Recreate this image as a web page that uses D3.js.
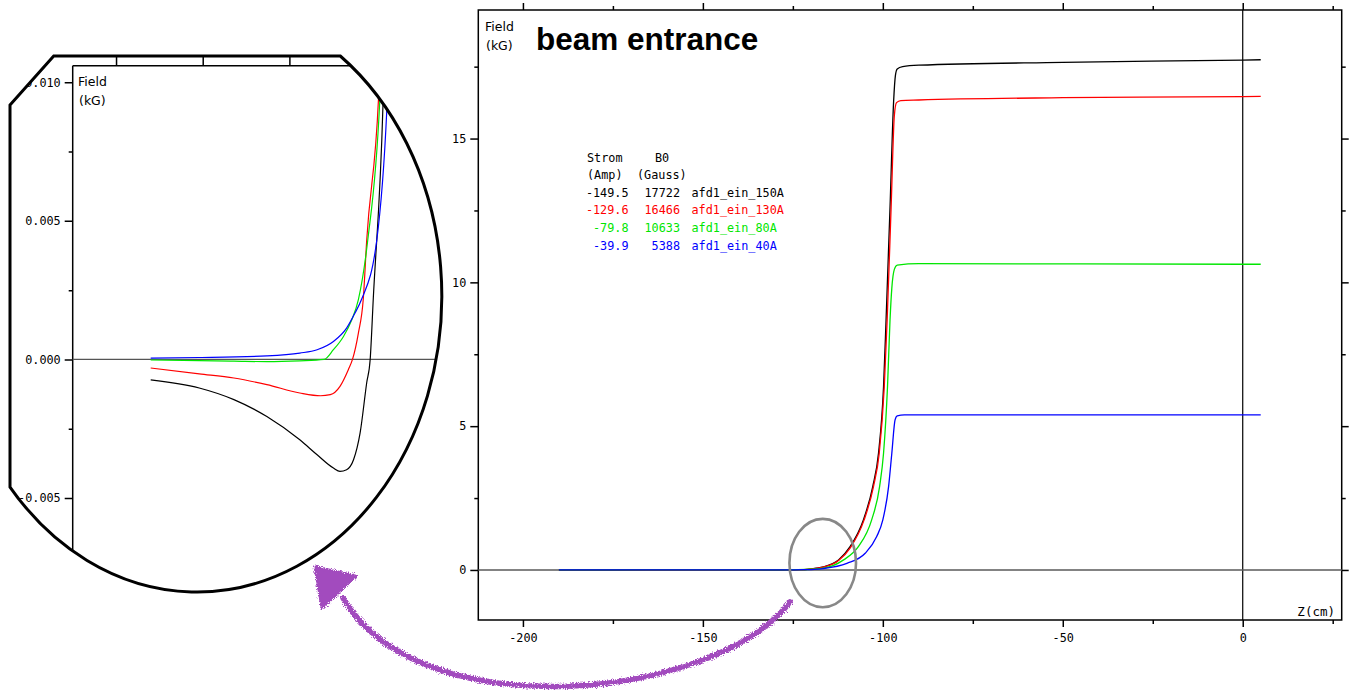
<!DOCTYPE html>
<html>
<head>
<meta charset="utf-8">
<script src="https://cdn.jsdelivr.net/npm/d3@7"></script>
<style>
  html, body { margin: 0; padding: 0; background: #fff; }
  svg { display: block; }
  .mono { font-family: "DejaVu Sans Mono", monospace; }
</style>
</head>
<body>
<svg id="chart" width="1349" height="690"></svg>
<script>
// 图例数据
const names = ["afd1_ein_150A", "afd1_ein_130A", "afd1_ein_80A", "afd1_ein_40A"];
const currents = ["-149.5", "-129.6", "-79.8", "-39.9"];
const fields = [17722, 16466, 10633, 5388];
const colors = ["#000000", "#ff0000", "#00e600", "#0000ff"];

// 每条曲线: Z(cm) 与 Field(kG)
const z150 = [-190, -176, -166, -156.5, -147, -142, -137.3, -135.4, -133.5, -131.5, -129.6, -127.7, -126.7, -125.8, -123, -121, -118.5, -116.5, -112.3, -109.1, -105.4, -102.8, -101.2, -99.8, -99.1, -98, -97, -96.5, -96, -94.5, -90, -50, 0, 5];
const b150 = [-0.00074, -0.00103, -0.00145, -0.00206, -0.0029, -0.00344, -0.00392, -0.00404, -0.00398, -0.00362, -0.00265, -0.00084, 0, 0.0022, 0.0092, 0.02, 0.06, 0.11, 0.35, 0.81, 1.74, 2.9, 4.06, 6.37, 8.69, 12.6, 16.3, 17.2, 17.42, 17.5, 17.55, 17.65, 17.73, 17.74];

const z130 = [-190, -176, -166, -156.5, -147, -141, -138.2, -135.4, -133, -131.8, -130.1, -128.7, -127.7, -124.3, -121, -118.5, -116.5, -112.3, -109, -105.2, -102.6, -101, -99.6, -98.8, -97.7, -96.8, -96.2, -95, -90, -50, 0, 5];
const b130 = [-0.00031, -0.00052, -0.00067, -0.00091, -0.00121, -0.00131, -0.00127, -0.00097, -0.00037, 0, 0.00095, 0.00216, 0.0043, 0.0094, 0.022, 0.055, 0.1, 0.33, 0.78, 1.74, 2.9, 4.06, 6.37, 8.69, 12.6, 15.8, 16.25, 16.32, 16.34, 16.42, 16.46, 16.47];

const z80 = [-190, -176, -166, -156.5, -147, -140, -137.3, -134.4, -132, -130.1, -127.4, -123.9, -120, -116.5, -110.9, -106.8, -103.1, -100.9, -99.8, -98.7, -98, -97.5, -96.8, -96, -90, 0, 5];
const b80 = [-0.00002, -0.00004, -0.00006, -0.00008, -0.00005, 0, 0.00035, 0.00083, 0.00143, 0.00216, 0.0043, 0.0094, 0.025, 0.06, 0.35, 0.81, 1.74, 2.9, 4.06, 6.37, 8.69, 9.8, 10.45, 10.6, 10.65, 10.63, 10.63];

const z40 = [-190, -176, -156.5, -147, -142, -137.3, -133.5, -131.1, -129.2, -124.8, -121.9, -119, -116.5, -110, -104.9, -101.7, -100, -98.4, -97.5, -96.6, -96, -94, 5];
const b40 = [0.00005, 0.00007, 0.00013, 0.00023, 0.00035, 0.00065, 0.00113, 0.00167, 0.00216, 0.0043, 0.009, 0.02, 0.05, 0.23, 0.58, 1.16, 1.74, 2.9, 4.06, 5.22, 5.36, 5.39, 5.39];

// 刻度
const xTicksMajor = [-200, -150, -100, -50, 0];
const xTicksMinor = [-175, -125, -75, -25, 25];
const yTicksMajor = [0, 5, 10, 15];
const yTicksMinor = [2.5, 7.5, 12.5, 17.5];
const insetTicksMajor = [-0.005, 0, 0.005, 0.01];
const insetTicksMinor = [-0.0025, 0.0025, 0.0075];

const series = [[z150, b150], [z130, b130], [z80, b80], [z40, b40]].map(function (s, i) {
  return { name: names[i], color: colors[i], points: s[0].map(function (z, j) { return [z, s[1][j]]; }) };
});

const svg = d3.select("#chart");

// ---------- 主图 ----------
const mLeft = 478.3, mRight = 1341.7, mTop = 10, mBottom = 620;
const x = d3.scaleLinear().domain([-212.4, 27.5]).range([mLeft, mRight]);
const y = d3.scaleLinear().domain([-1.74, 19.47]).range([mBottom, mTop]);

const main = svg.append("g").attr("class", "main");

function styleAxis(g) {
  g.select(".domain").remove();
  g.selectAll("line").style("stroke", "#000").style("stroke-width", "1.5px");
  g.selectAll("text").attr("class", "mono").style("font-size", "11.8px").style("fill", "#000");
}

const fmt = function (d) { return String(d); };

main.append("g").attr("transform", `translate(0,${mBottom})`)
  .call(d3.axisBottom(x).tickValues(xTicksMajor).tickSize(7).tickPadding(7).tickFormat(fmt)).call(styleAxis);
main.append("g").attr("transform", `translate(0,${mBottom})`)
  .call(d3.axisBottom(x).tickValues(xTicksMinor).tickSize(4).tickFormat("")).call(styleAxis);
main.append("g").attr("transform", `translate(0,${mTop})`)
  .call(d3.axisTop(x).tickValues(xTicksMajor).tickSize(7).tickFormat("")).call(styleAxis);
main.append("g").attr("transform", `translate(0,${mTop})`)
  .call(d3.axisTop(x).tickValues(xTicksMinor).tickSize(4).tickFormat("")).call(styleAxis);
main.append("g").attr("transform", `translate(${mLeft},0)`)
  .call(d3.axisLeft(y).tickValues(yTicksMajor).tickSize(8).tickPadding(4).tickFormat(fmt)).call(styleAxis);
main.append("g").attr("transform", `translate(${mLeft},0)`)
  .call(d3.axisLeft(y).tickValues(yTicksMinor).tickSize(4).tickFormat("")).call(styleAxis);
main.append("g").attr("transform", `translate(${mRight},0)`)
  .call(d3.axisRight(y).tickValues(yTicksMajor).tickSize(7).tickFormat("")).call(styleAxis);
main.append("g").attr("transform", `translate(${mRight},0)`)
  .call(d3.axisRight(y).tickValues(yTicksMinor).tickSize(4).tickFormat("")).call(styleAxis);

// 边框
main.append("rect")
  .attr("x", mLeft).attr("y", mTop)
  .attr("width", mRight - mLeft).attr("height", mBottom - mTop)
  .style("fill", "none").style("stroke", "#000").style("stroke-width", "1.5px");

// Z=0 竖线, B=0 横线
main.append("line")
  .attr("x1", x(0)).attr("x2", x(0)).attr("y1", mTop).attr("y2", mBottom)
  .style("stroke", "#000").style("stroke-width", "1.2px");
main.append("line")
  .attr("x1", mLeft).attr("x2", mRight).attr("y1", y(0)).attr("y2", y(0))
  .style("stroke", "#5a5a5a").style("stroke-width", "1.6px");

const lineMain = d3.line()
  .x(function (d) { return x(d[0]); })
  .y(function (d) { return y(d[1]); })
  .curve(d3.curveMonotoneX);

main.selectAll("path.curve").data(series).enter().append("path")
  .attr("class", "curve")
  .attr("d", function (d) { return lineMain(d.points); })
  .style("fill", "none")
  .style("stroke", function (d) { return d.color; })
  .style("stroke-width", "1.3px");

// 轴标题
main.append("text").attr("x", 485).attr("y", 30.5)
  .style("font-family", "DejaVu Sans").style("font-size", "12.5px").text("Field");
main.append("text").attr("x", 486).attr("y", 50)
  .style("font-family", "DejaVu Sans").style("font-size", "12.5px").text("(kG)");
main.append("text").attr("class", "mono").attr("x", 1335).attr("y", 615.5)
  .attr("text-anchor", "end").style("font-size", "12.5px").text("Z(cm)");
main.append("text").attr("x", 536).attr("y", 50)
  .style("font-family", "Liberation Sans, Arial, sans-serif")
  .style("font-weight", "bold").style("font-size", "31.5px").text("beam entrance");

// 图例
const legend = main.append("g").attr("class", "mono").style("font-size", "11.8px");
legend.append("text").attr("x", 587).attr("y", 161.5).text("Strom");
legend.append("text").attr("x", 655).attr("y", 161.5).text("B0");
legend.append("text").attr("x", 587).attr("y", 178.5).text("(Amp)");
legend.append("text").attr("x", 637).attr("y", 178.5).text("(Gauss)");

const rows = legend.selectAll("g.row").data(series).enter().append("g")
  .attr("class", "row")
  .attr("transform", function (d, i) { return `translate(0,${196.5 + i * 17.8})`; })
  .style("fill", function (d) { return d.color; });
rows.append("text").attr("x", 628.5).attr("text-anchor", "end").text(function (d, i) { return currents[i]; });
rows.append("text").attr("x", 680).attr("text-anchor", "end").text(function (d, i) { return fields[i]; });
rows.append("text").attr("x", 691.5).text(function (d) { return d.name; });

// 灰色椭圆标记
main.append("ellipse")
  .attr("cx", x(-116.7)).attr("cy", y(0.24))
  .attr("rx", 33.3).attr("ry", 44.2)
  .style("fill", "none").style("stroke", "#888").style("stroke-width", "2.6px");

// ---------- 放大图 ----------
// 外框: 椭圆被上边、左边和左上斜边截断
const ex = 197, ey = 296, erx = 244.8, ery = 296;
const cutTop = 56, cutLeft = 10;
const dxTop = erx * Math.sqrt(1 - Math.pow((cutTop - ey) / ery, 2));
const dyLeft = ery * Math.sqrt(1 - Math.pow((cutLeft - ex) / erx, 2));
const outline = `M${cutLeft},${ey - dyLeft} L${ex - dxTop},${cutTop} L${ex + dxTop},${cutTop} ` +
  `A${erx},${ery} 0 1 1 ${cutLeft},${ey + dyLeft} Z`;

const defs = svg.append("defs");
defs.append("clipPath").attr("id", "insetClip").append("path").attr("d", outline);

const rough = defs.append("filter").attr("id", "rough")
  .attr("x", "-10%").attr("y", "-10%").attr("width", "120%").attr("height", "120%");
rough.append("feTurbulence").attr("type", "fractalNoise").attr("baseFrequency", 0.9)
  .attr("numOctaves", 2).attr("result", "noise");
rough.append("feDisplacementMap").attr("in", "SourceGraphic").attr("in2", "noise")
  .attr("scale", 6).attr("xChannelSelector", "R").attr("yChannelSelector", "G");

const iLeft = 72.7, iTop = 65.7;
const xi = d3.scaleLinear().domain([-212.5, 27.5]).range([iLeft, iLeft + 240 * 3.467]);
const yi = d3.scaleLinear().domain([-0.005, 0.01]).range([498, 82.3]);

svg.append("path").attr("d", outline).style("fill", "#fff");
const inset = svg.append("g").attr("clip-path", "url(#insetClip)");

inset.append("g").attr("transform", `translate(0,${iTop})`)
  .call(d3.axisTop(xi).tickValues(xTicksMajor.concat(xTicksMinor)).tickSize(10).tickFormat("")).call(styleAxis);
inset.append("g").attr("transform", `translate(${iLeft},0)`)
  .call(d3.axisLeft(yi).tickValues(insetTicksMajor).tickSize(8).tickPadding(4)
    .tickFormat(function (d) { return d.toFixed(3); })).call(styleAxis);
inset.append("g").attr("transform", `translate(${iLeft},0)`)
  .call(d3.axisLeft(yi).tickValues(insetTicksMinor).tickSize(4).tickFormat("")).call(styleAxis);

inset.append("line").attr("x1", iLeft).attr("x2", iLeft).attr("y1", iTop).attr("y2", 600)
  .style("stroke", "#000").style("stroke-width", "1.5px");
inset.append("line").attr("x1", iLeft).attr("x2", 450).attr("y1", iTop).attr("y2", iTop)
  .style("stroke", "#000").style("stroke-width", "1.5px");
inset.append("line").attr("x1", iLeft).attr("x2", 450).attr("y1", yi(0)).attr("y2", yi(0))
  .style("stroke", "#555").style("stroke-width", "1.2px");

const lineInset = d3.line()
  .x(function (d) { return xi(d[0]); })
  .y(function (d) { return yi(d[1]); })
  .curve(d3.curveMonotoneX);

// 只保留放大区间附近的点
inset.selectAll("path.curve").data(series).enter().append("path")
  .attr("class", "curve")
  .attr("d", function (d) {
    let k = d.points.findIndex(function (p) { return p[1] > 0.03; });
    return lineInset(d.points.slice(0, k + 1));
  })
  .style("fill", "none")
  .style("stroke", function (d) { return d.color; })
  .style("stroke-width", "1.2px");

inset.append("text").attr("x", 78).attr("y", 85.5)
  .style("font-family", "DejaVu Sans").style("font-size", "12.5px").text("Field");
inset.append("text").attr("x", 79).attr("y", 104.5)
  .style("font-family", "DejaVu Sans").style("font-size", "12.5px").text("(kG)");

svg.append("path").attr("d", outline)
  .style("fill", "none").style("stroke", "#000").style("stroke-width", "3px");

// 紫色手绘箭头
const arrow = svg.append("g").attr("filter", "url(#rough)");
arrow.append("path")
  .attr("d", "M790,602 C715,700 420,730 343,598")
  .style("fill", "none").style("stroke", "#a24cbe").style("stroke-width", "5.5px")
  .style("stroke-linecap", "round");
arrow.append("path")
  .attr("d", "M315,567 L356,576 L322,608 Z")
  .style("fill", "#a24cbe").style("stroke", "#a24cbe").style("stroke-width", "3px")
  .style("stroke-linejoin", "round");
</script>
</body>
</html>
